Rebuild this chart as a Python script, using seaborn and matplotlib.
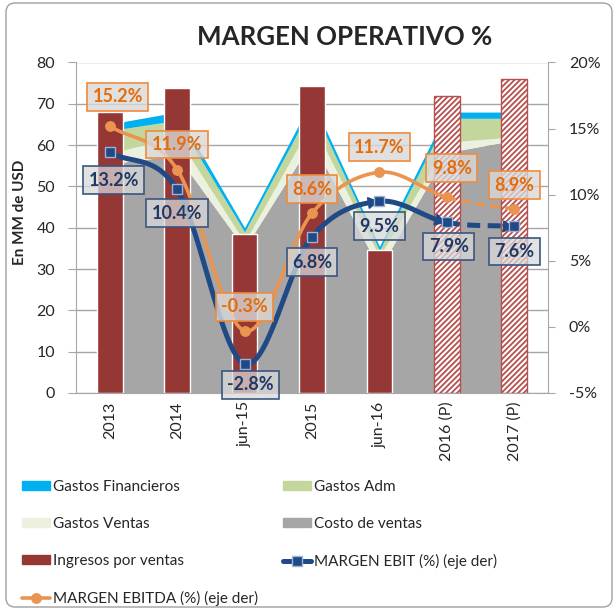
import numpy as np
import matplotlib
matplotlib.use("Agg")
import matplotlib.pyplot as plt
from matplotlib.patches import FancyBboxPatch, Patch
from matplotlib.lines import Line2D
import seaborn as sns

# ---- data (MM USD and %) ----
categories = ['2013', '2014', 'jun-15', '2015', 'jun-16', '2016 (P)', '2017 (P)']
ingresos = [68.0, 73.8, 38.4, 74.2, 34.5, 72.0, 76.0]
costo_ventas = [55.5, 57.5, 35.0, 61.0, 30.0, 58.2, 61.2]
gastos_ventas = [2.5, 4.5, 1.5, 4.5, 3.0, 2.5, 0.8]
gastos_adm = [5.5, 4.0, 2.5, 4.0, 1.5, 5.8, 4.5]
gastos_fin = [1.6, 2.0, 1.0, 1.5, 1.0, 1.5, 1.5]
margen_ebit = [13.2, 10.4, -2.8, 6.8, 9.5, 7.9, 7.6]
margen_ebitda = [15.2, 11.9, -0.3, 8.6, 11.7, 9.8, 8.9]
proyectado = [False, False, False, False, False, True, True]

# label offsets in pixels (layout only)
off_ebitda = [(8, 29), (0, 25), (0, 24), (0, 24), (0, 25), (5, 29), (0, 24)]
off_ebit = [(4, -28), (0, -24), (6, -21), (0, -25), (0, -25), (2, -24), (0, -25)]

C_FIN = '#00B0F0'
C_ADM = '#C3D69B'
C_VEN = '#EBF1DE'
C_COS = '#A6A6A6'
C_ING = '#953735'
C_EBIT = '#1F4A85'
C_EBITDA = '#EB9450'
C_GRID = '#A6A6A6'


def smooth_segments(ys, n=40):
    """Catmull-Rom style smoothing (like Excel's smoothed line), one array per segment."""
    ys = np.asarray(ys, float)
    xs = np.arange(len(ys), dtype=float)
    m = np.gradient(ys, xs)
    segs = []
    for i in range(len(ys) - 1):
        t = np.linspace(0, 1, n)
        h00 = 2 * t**3 - 3 * t**2 + 1
        h10 = t**3 - 2 * t**2 + t
        h01 = -2 * t**3 + 3 * t**2
        h11 = t**3 - t**2
        y = h00 * ys[i] + h10 * m[i] + h01 * ys[i + 1] + h11 * m[i + 1]
        segs.append((xs[i] + t, y))
    return segs


sns.set_style("white")
plt.rcParams['font.family'] = ['Lato', 'DejaVu Sans']
plt.rcParams['hatch.linewidth'] = 1.3

W, H = 616, 610
fig = plt.figure(figsize=(W / 100, H / 100), dpi=100)
ax = fig.add_axes([76 / W, 1 - 393 / H, 472 / W, 330.5 / H])
x = np.arange(len(categories))

# stacked areas (behind bars)
ax.stackplot(x, costo_ventas, gastos_ventas, gastos_adm, gastos_fin,
             colors=[C_COS, C_VEN, C_ADM, C_FIN], zorder=1, lw=0)

# revenue bars
sns.barplot(x=categories, y=ingresos, color=C_ING, saturation=1, width=0.38, ax=ax, zorder=2)
for bar, p in zip(ax.patches, proyectado):
    if p:
        bar.set_facecolor('white')
        bar.set_edgecolor('#B5504E')
        bar.set_hatch('//////')
        bar.set_linewidth(1.0)

ax.set_xlim(-0.5, 6.5)
ax.set_ylim(0, 80)
ax.set_yticks(range(0, 81, 10))
ax.yaxis.grid(True, color=C_GRID, lw=1)
ax.set_axisbelow(True)
ax.set_xlabel('')
ax.set_ylabel('')
ax.set_xticks(x)
ax.set_xticklabels(categories, rotation=90, fontsize=11.5)
ax.tick_params(axis='x', length=0, pad=6)
ax.tick_params(axis='y', left=True, length=6, color=C_GRID, pad=9, labelsize=11.5)
for s in ['top', 'right']:
    ax.spines[s].set_visible(False)
for s in ['left', 'bottom']:
    ax.spines[s].set_color(C_GRID)

# margins on right axis
ax2 = ax.twinx()
ax2.set_ylim(-5, 20)
ax2.set_yticks(range(-5, 21, 5))
ax2.set_yticklabels([f'{v}%' for v in range(-5, 21, 5)])
ax2.tick_params(axis='y', right=True, length=5, color=C_GRID, pad=10, labelsize=11.5)
for s in ['top', 'left', 'bottom']:
    ax2.spines[s].set_visible(False)
ax2.spines['right'].set_color(C_GRID)
ax2.grid(False)

for segs, color, lw in [(smooth_segments(margen_ebitda), C_EBITDA, 2.6),
                        (smooth_segments(margen_ebit), C_EBIT, 3.6)]:
    for i, (sx, sy) in enumerate(segs):
        ls = (0, (2.6, 1.5)) if proyectado[i] else '-'
        ax2.plot(sx, sy, color=color, lw=lw, ls=ls, solid_capstyle='butt', zorder=5)

# arrow heads on EBIT line
ebit_segs = smooth_segments(margen_ebit)
for i in [3, 4, 5]:
    sx, sy = ebit_segs[i]
    k = len(sx) - 6
    p0 = ax2.transData.transform((sx[k - 1], sy[k - 1]))
    p1 = ax2.transData.transform((sx[k + 1], sy[k + 1]))
    ang = np.degrees(np.arctan2(p1[1] - p0[1], p1[0] - p0[0]))
    ax2.plot(sx[k], sy[k], marker=(3, 0, ang - 90), ms=9, color=C_EBIT, zorder=6)

ax2.plot(x, margen_ebitda, ls='none', marker='o', ms=6.8, color=C_EBITDA, zorder=7)
ax2.plot(x, margen_ebit, ls='none', marker='s', ms=7.5, mfc=C_EBIT, mec='#9DB3D6', mew=1, zorder=7)

for i, v in enumerate(margen_ebitda):
    ax2.annotate(f'{v:.1f}%', (i, v), xytext=off_ebitda[i], textcoords='offset pixels',
                 ha='center', va='center', fontsize=13, fontweight='bold', color='#E46C0A',
                 bbox=dict(boxstyle='square,pad=0.3', fc=(0.85, 0.85, 0.85, 0.8), ec='#F08A3C', lw=1.2),
                 zorder=10)
for i, v in enumerate(margen_ebit):
    ax2.annotate(f'{v:.1f}%', (i, v), xytext=off_ebit[i], textcoords='offset pixels',
                 ha='center', va='center', fontsize=13, fontweight='bold', color='#1F3864',
                 bbox=dict(boxstyle='square,pad=0.3', fc=(0.85, 0.85, 0.85, 0.75), ec='#3B5680', lw=1.2),
                 zorder=10)

# titles
fig.text(345 / W, 1 - 37 / H, 'MARGEN OPERATIVO %', ha='center', va='center',
         fontsize=18.6, fontweight='bold')
fig.text(20 / W, 1 - 212 / H, 'En MM de USD', rotation=90, ha='center', va='center',
         fontsize=11, fontweight='bold')

# legend (ordered so two columns read row by row)
h_fin = Patch(color=C_FIN, label='Gastos Financieros')
h_adm = Patch(color=C_ADM, label='Gastos Adm')
h_ven = Patch(color=C_VEN, label='Gastos Ventas')
h_cos = Patch(color=C_COS, label='Costo de ventas')
h_ing = Patch(color=C_ING, label='Ingresos por ventas')
h_ebit = Line2D([], [], color=C_EBIT, lw=3.6, marker='s', ms=7.5, mfc=C_EBIT, mec='#9DB3D6',
                label='MARGEN EBIT (%) (eje der)')
h_ebitda = Line2D([], [], color=C_EBITDA, lw=2.6, marker='o', ms=6.8, label='MARGEN EBITDA (%) (eje der)')
fig.legend(handles=[h_fin, h_ven, h_ing, h_ebitda, h_adm, h_cos, h_ebit],
           loc='upper left', bbox_to_anchor=(22 / W, 1 - 480 / H), ncol=2, frameon=False,
           fontsize=11, handlelength=1.85, handleheight=0.6, handletextpad=0.2,
           columnspacing=1.6, labelspacing=1.5, borderpad=0, borderaxespad=0)

# outer rounded border
fig.patches.append(FancyBboxPatch((6 / W, 3 / H), 606 / W, 604 / H,
                                  boxstyle='round,pad=0,rounding_size=0.015',
                                  transform=fig.transFigure, fill=False, ec='#A0A0A0', lw=1))

fig.savefig('out.png', dpi=100)
